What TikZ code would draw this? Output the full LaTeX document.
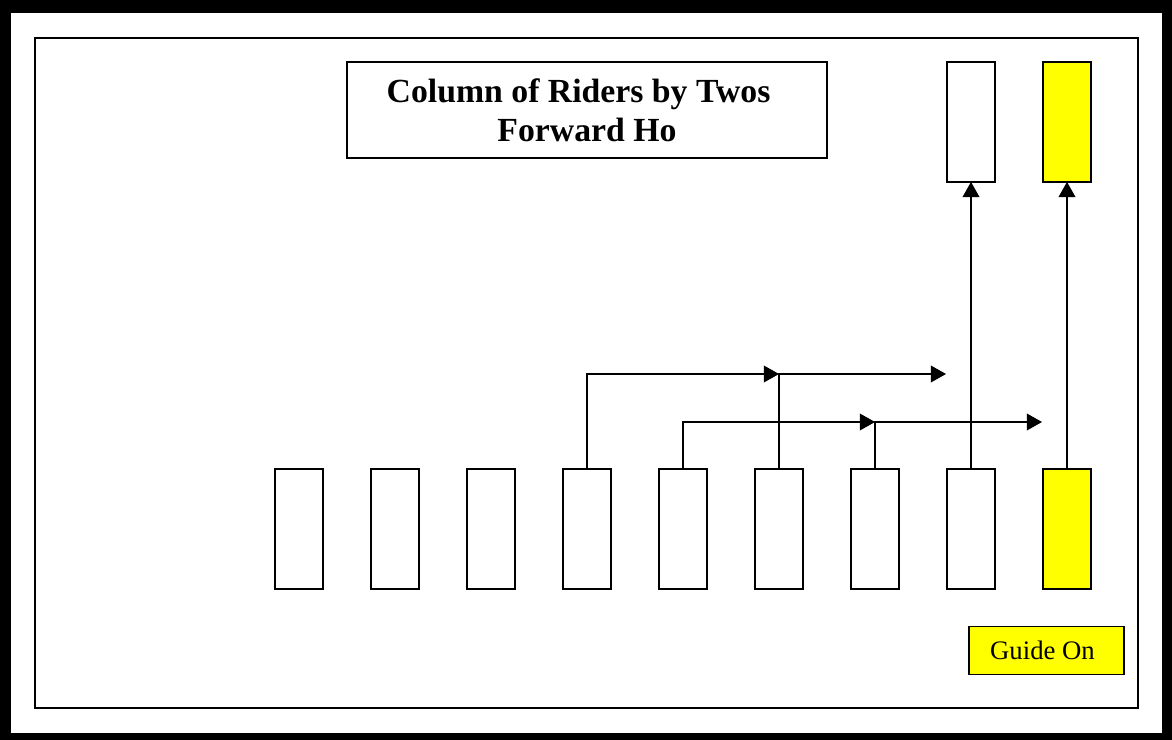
\documentclass[tikz,border=0pt]{standalone}
\usepackage{fontspec}
\setmainfont{Liberation Serif}
\usetikzlibrary{positioning,arrows.meta}
\definecolor{guideyellow}{RGB}{255,255,0}

\begin{document}
\begin{tikzpicture}[x=0.025cm, y=-0.025cm,
    rider/.style={draw, line width=1.1pt, minimum width=1.2cm, minimum height=3cm, inner sep=0pt, outer sep=0pt},
    arr/.style={-{Triangle[length=0.38cm, width=0.42cm]}, line width=0.9pt}]
    % frame
    \fill[black] (0,0) rectangle (1172,740);
    \fill[white] (11,13) rectangle (1162,733);
    \draw[line width=1pt] (35,38) rectangle (1138,708);

    \node (title) [draw, line width=1pt, minimum width=12cm, minimum height=2.4cm, align=center, font=\fontsize{24}{27.5}\selectfont\bfseries] at (587,110) {Column of Riders by Twos\hspace*{0.5em}\\Forward Ho};

    % riders in column
    \foreach \i in {1,...,8}
        \node (r\i) [rider] at (203+96*\i, 529) {};
    \node (r9) [rider, fill=guideyellow] at (1067,529) {};

    \node (t8) [rider, above=7.175cm of r8] {};
    \node (t9) [rider, fill=guideyellow, above=7.175cm of r9] {};

    \node (guide) [draw, fill=guideyellow, line width=1pt, minimum width=3.875cm, minimum height=1.2cm, font=\fontsize{19}{22}\selectfont] at (1046.5,650.5) {Guide On\hspace*{0.3em}};

    \coordinate (lane1) at (0,374);
    \coordinate (lane2) at (0,422);
    \coordinate (end1) at (946,374);
    \coordinate (end2) at (1042,422);

    \draw[arr] (r4.north) |- (r6 |- lane1);
    \draw[arr] (r6.north) |- (end1);
    \draw[arr] (r5.north) |- (r7 |- lane2);
    \draw[arr] (r7.north) |- (end2);
    \draw[arr] (r8.north) -- (t8.south);
    \draw[arr] (r9.north) -- (t9.south);
\end{tikzpicture}
\end{document}
